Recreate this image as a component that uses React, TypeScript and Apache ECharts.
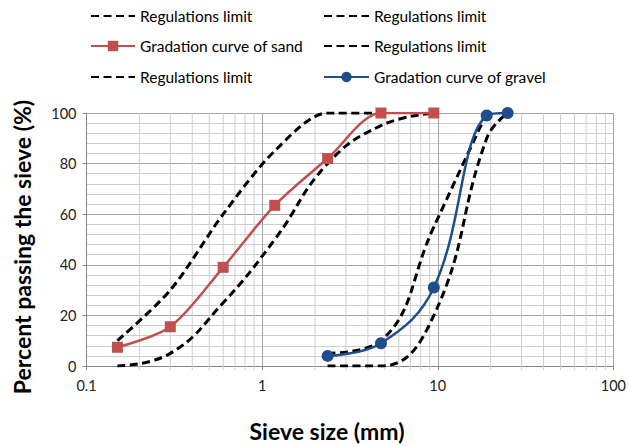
import React, { useEffect, useRef } from "react";
import * as echarts from "echarts";

// Sieve openings (mm)
const sandSieves = [0.15, 0.3, 0.6, 1.18, 2.36, 4.75, 9.5];
const sandPassing = [7.4, 15.5, 39, 63.5, 82, 100, 100];
const sandUpper = [10, 30, 60, 85, 100, 100, 100];
const sandLower = [0, 5, 25, 50, 80, 95, 100];

const gravelSieves = [2.36, 4.75, 9.5, 19, 25];
const gravelPassing = [4, 9, 31, 99, 100];
const gravelUpperSieves = [2.36, 4.75, 9.5, 19];
const gravelUpper = [5, 10, 55, 100];
const gravelLower = [0, 0, 20, 90, 100];

// Intermediate log-scale grid lines
const minorSieveLines = [
  0.2, 0.3, 0.4, 0.5, 0.6, 0.7, 0.8, 0.9,
  2, 3, 4, 5, 6, 7, 8, 9,
  20, 30, 40, 50, 60, 70, 80, 90,
];

const LIMIT = "Regulations limit";
const SAND = "Gradation curve of sand";
const GRAVEL = "Gradation curve of gravel";
const X_TITLE = "Sieve size (mm)";
const Y_TITLE = "Percent passing the sieve (%)";

const FONT = "Lato";

const pairs = (xs: number[], ys: number[]) => xs.map((x, i) => [x, ys[i]]);

const limitStyle = {
  color: "#000000",
  width: 3,
  type: [8, 4.5] as number[],
};

export default function App() {
  const ref = useRef<HTMLDivElement>(null);

  useEffect(() => {
    if (!ref.current) return;
    const chart = echarts.init(ref.current, null, { renderer: "svg" });

    const legendAt = (name: string, left: number, top: number, w: number) => ({
      data: [
        name === LIMIT
          ? { name, itemStyle: { opacity: 0, borderWidth: 0 } }
          : { name },
      ],
      left,
      top,
      itemWidth: w,
      itemHeight: 13,
      padding: 0,
      selectedMode: false,
      textStyle: { fontFamily: FONT, fontSize: 15.5, color: "#000" },
    });

    chart.setOption({
      animation: false,
      backgroundColor: "#ffffff",
      textStyle: { fontFamily: FONT },
      legend: [
        legendAt(LIMIT, 90, 8, 44),
        legendAt(LIMIT, 323, 8, 45),
        legendAt(SAND, 90, 38, 44),
        legendAt(LIMIT, 323, 38, 45),
        legendAt(LIMIT, 90, 69, 44),
        legendAt(GRAVEL, 323, 69, 45),
      ],
      graphic: [
        {
          type: "text",
          x: 327,
          y: 431,
          style: {
            text: X_TITLE,
            fontFamily: FONT,
            fontSize: 23,
            fontWeight: "bold",
            fill: "#000",
            align: "center",
            verticalAlign: "middle",
          },
        },
        {
          type: "text",
          x: 22,
          y: 247,
          rotation: Math.PI / 2,
          style: {
            text: Y_TITLE,
            fontFamily: FONT,
            fontSize: 23,
            fontWeight: "bold",
            fill: "#000",
            align: "center",
            verticalAlign: "middle",
          },
        },
      ],
      grid: { left: 86.5, right: 14.5, top: 113, bottom: 80 },
      xAxis: {
        type: "log",
        logBase: 10,
        min: 0.1,
        max: 100,
        axisLine: { lineStyle: { color: "#868686", width: 1 } },
        axisTick: { show: true, length: 4, lineStyle: { color: "#868686" } },
        axisLabel: { fontFamily: FONT, fontSize: 14.5, color: "#222", margin: 12 },
        splitLine: { show: true, lineStyle: { color: "#a6a6a6", width: 1 } },
      },
      yAxis: {
        type: "value",
        min: 0,
        max: 100,
        interval: 20,
        axisLine: { show: true, lineStyle: { color: "#868686", width: 1 } },
        axisTick: { show: true, length: 4, lineStyle: { color: "#868686" } },
        axisLabel: { fontFamily: FONT, fontSize: 14.5, color: "#222", margin: 10 },
        splitLine: { show: true, lineStyle: { color: "#a6a6a6", width: 1 } },
        minorTick: { show: false, splitNumber: 5 },
        minorSplitLine: { show: true, lineStyle: { color: "#cfcfcf", width: 1 } },
      },
      series: [
        {
          type: "custom",
          name: "minor-grid",
          silent: true,
          z: 1,
          data: minorSieveLines.map((v) => [v]),
          renderItem: (_params: any, api: any) => {
            const x = api.value(0);
            const p0 = api.coord([x, 0]);
            const p1 = api.coord([x, 100]);
            return {
              type: "line",
              shape: { x1: p0[0], y1: p0[1] + 4, x2: p1[0], y2: p1[1] },
              style: { stroke: "#cfcfcf", lineWidth: 1 },
            };
          },
        },
        {
          type: "line",
          name: LIMIT,
          data: pairs(sandSieves.slice(0, 6), sandUpper.slice(0, 6)),
          smooth: 0.3,
          symbol: "none",
          lineStyle: limitStyle,
          itemStyle: { color: "#000" },
          z: 3,
        },
        {
          type: "line",
          name: LIMIT,
          data: pairs(sandSieves, sandLower),
          smooth: 0.45,
          symbol: "none",
          lineStyle: limitStyle,
          itemStyle: { color: "#000" },
          z: 3,
        },
        {
          type: "line",
          name: SAND,
          data: pairs(sandSieves, sandPassing),
          smooth: 0.3,
          symbol: "rect",
          symbolSize: 11,
          lineStyle: { color: "#C0504D", width: 2.5 },
          itemStyle: { color: "#C0504D" },
          z: 4,
        },
        {
          type: "line",
          name: LIMIT,
          data: pairs(gravelUpperSieves, gravelUpper),
          smooth: 0.45,
          symbol: "none",
          lineStyle: limitStyle,
          itemStyle: { color: "#000" },
          z: 3,
        },
        {
          type: "line",
          name: LIMIT,
          data: pairs(gravelSieves, gravelLower),
          smooth: 0.45,
          symbol: "none",
          lineStyle: limitStyle,
          itemStyle: { color: "#000" },
          z: 3,
        },
        {
          type: "line",
          name: GRAVEL,
          data: pairs(gravelSieves, gravelPassing),
          smooth: 0.4,
          symbol: "circle",
          symbolSize: 12,
          lineStyle: { color: "#1F4E8C", width: 2.5 },
          itemStyle: { color: "#1F4E8C" },
          z: 4,
        },
      ],
    });

    return () => chart.dispose();
  }, []);

  return (
    <div
      ref={ref}
      style={{ position: "absolute", left: 0, top: 0, width: 629, height: 446 }}
    />
  );
}
